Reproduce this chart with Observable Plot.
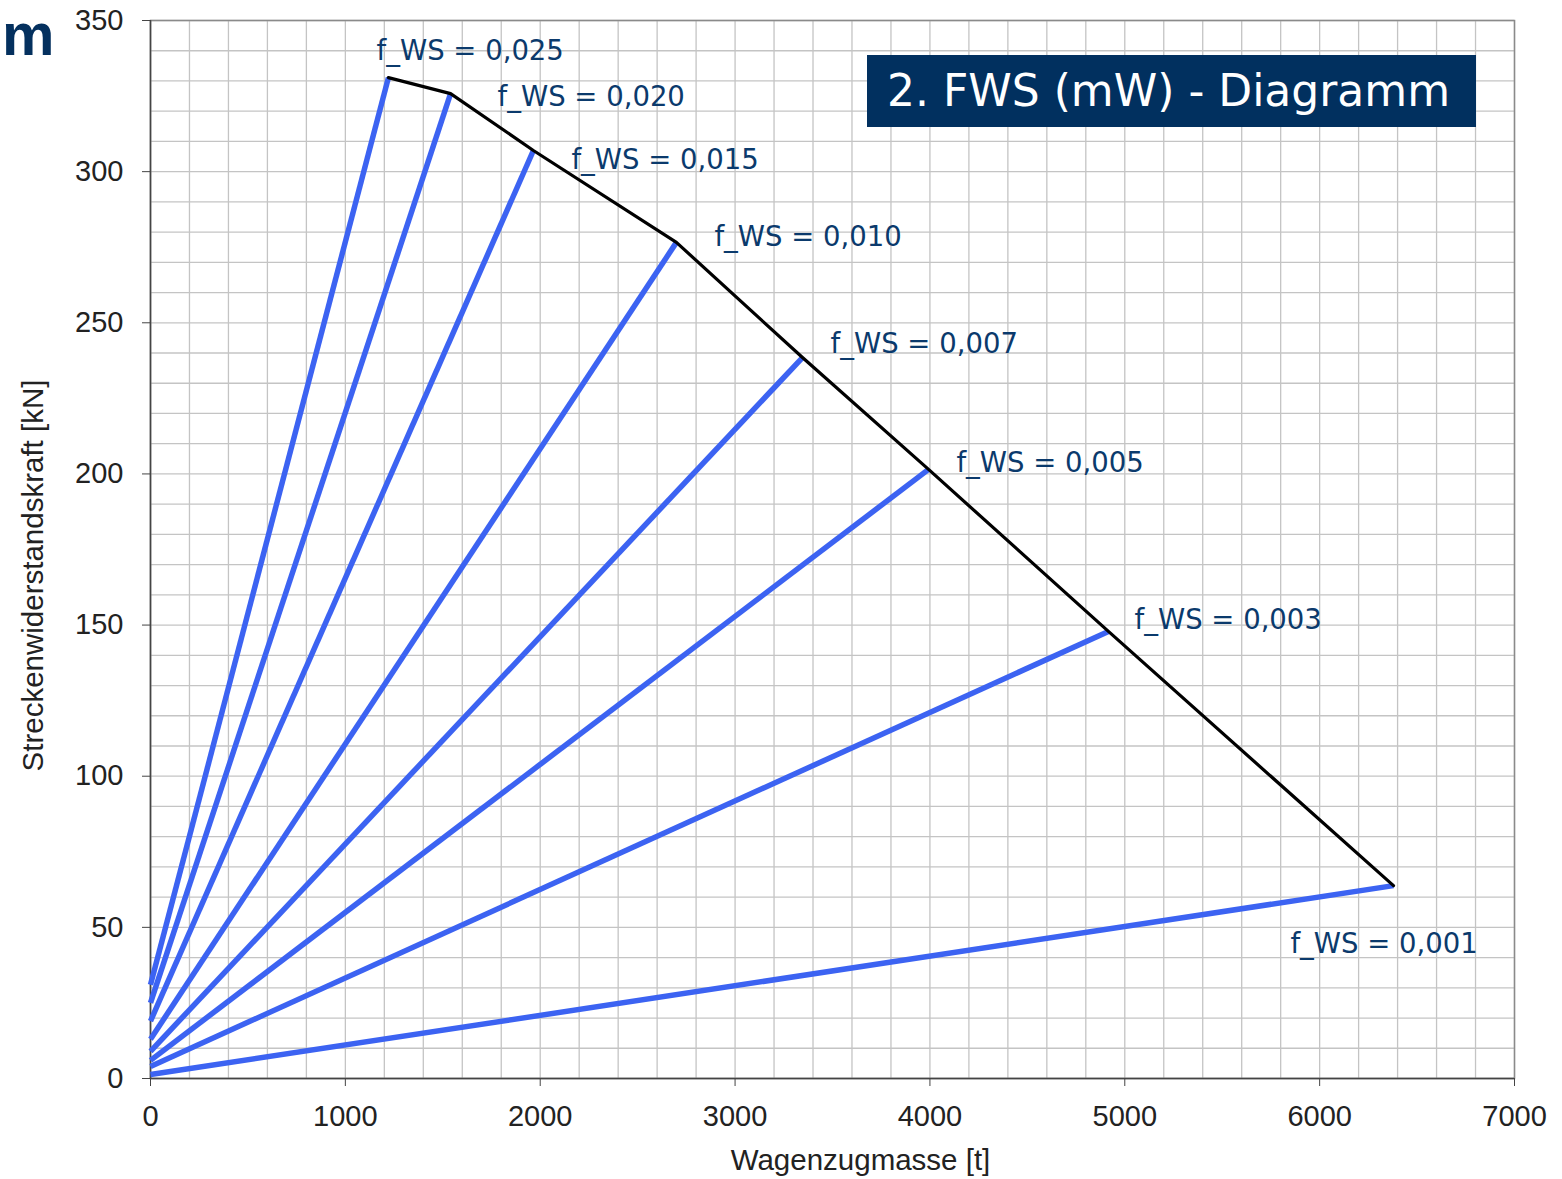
<!DOCTYPE html>
<html>
<head>
<meta charset="utf-8">
<script src="https://cdn.jsdelivr.net/npm/d3@7"></script>
<script src="https://cdn.jsdelivr.net/npm/@observablehq/plot@0.6"></script>
<style>
  body { margin: 0; background: #fff; }
  #wrap { position: relative; width: 1562px; height: 1179px; overflow: hidden; }
  #logo { position: absolute; left: 2px; top: 1px; font: bold 59px "Liberation Sans", Arial, sans-serif; line-height: normal; color: #04305e; }
  #title { position: absolute; left: 867px; top: 55px; width: 609px; height: 72px; background: #01305f; color: #fff;
           font: 44px "DejaVu Sans", Verdana, sans-serif; line-height: 72px; box-sizing: border-box; padding-left: 20px; white-space: nowrap; }
</style>
</head>
<body>
<div id="wrap">
  <div id="chart"></div>
  <div id="logo">m</div>
  <div id="title">2. FWS (mW) - Diagramm</div>
</div>
<script>
// Data
const fLabels   = ["f_WS = 0,025", "f_WS = 0,020", "f_WS = 0,015", "f_WS = 0,010", "f_WS = 0,007", "f_WS = 0,005", "f_WS = 0,003", "f_WS = 0,001"];
const forceStart = [31, 25, 19, 13, 9, 6, 4, 1.3];          // kN at 0 t
const massEnd    = [1221, 1540, 1965, 2699, 3346, 3993, 4916, 6379]; // t
const forceEnd   = [331.1, 325.8, 307, 276.6, 238.5, 201.5, 147.9, 63.8]; // kN
// annotation anchor points (data coordinates)
const labelX = [1160, 1781, 2160, 2894, 3490, 4136, 5050, 5850];
const labelY = [340, 324.5, 303.7, 278.2, 242.8, 203.4, 151.5, 44.3];
const xTicks = [0, 1000, 2000, 3000, 4000, 5000, 6000, 7000];
const yTicks = [0, 50, 100, 150, 200, 250, 300, 350];

const segs = fLabels.map((l, i) => ({label: l, x1: 0, y1: forceStart[i], x2: massEnd[i], y2: forceEnd[i]}));
const env = massEnd.map((m, i) => ({x: m, y: forceEnd[i]}));
const labs = fLabels.map((l, i) => ({label: l, x: labelX[i], y: labelY[i]}));

const tickFont = "Liberation Sans, Arial, sans-serif";
const annFont = "DejaVu Sans, Verdana, sans-serif";

const chart = Plot.plot({
  width: 1562,
  height: 1179,
  marginLeft: 150,
  marginRight: 48,
  marginTop: 20,
  marginBottom: 101,
  style: {fontFamily: tickFont, fontSize: "29px", color: "#222", background: "#fff"},
  x: {domain: [0, 7000]},
  y: {domain: [0, 350]},
  marks: [
    Plot.gridX({interval: 200, stroke: "#c4c4c4", strokeOpacity: 1, strokeWidth: 1.3}),
    Plot.gridY({interval: 10, stroke: "#c4c4c4", strokeOpacity: 1, strokeWidth: 1.3}),
    Plot.frame({stroke: "#8a8a8a", strokeWidth: 1.5}),
    Plot.ruleX([0], {stroke: "#444", strokeWidth: 1.5}),
    Plot.ruleY([0], {stroke: "#444", strokeWidth: 1.5}),
    Plot.axisX({ticks: xTicks, tickFormat: d3.format("d"), tickSize: 8, tickPadding: 19, label: null, stroke: "#444", fontSize: 29, fill: "#222"}),
    Plot.axisY({ticks: yTicks, tickFormat: d3.format("d"), tickSize: 8, tickPadding: 19, label: null, stroke: "#444", fontSize: 29, fill: "#222"}),
    Plot.link(segs, {x1: "x1", y1: "y1", x2: "x2", y2: "y2", stroke: "#3c63f2", strokeWidth: 5.5, strokeLinecap: "butt"}),
    Plot.line(env, {x: "x", y: "y", stroke: "#000", strokeWidth: 3.2}),
    Plot.text(labs, {x: "x", y: "y", text: "label", textAnchor: "start", lineAnchor: "middle", fontSize: 27.5, fontFamily: annFont, fill: "#0b3a6c"}),
    Plot.text(["Wagenzugmasse [t]"], {frameAnchor: "bottom", textAnchor: "middle", dx: 28, dy: 82, lineAnchor: "middle", fontSize: 29.5, fill: "#222"}),
    Plot.text(["Streckenwiderstandskraft [kN]"], {frameAnchor: "left", textAnchor: "middle", rotate: -90, dx: -117, dy: 26, lineAnchor: "middle", fontSize: 29.5, fill: "#222"})
  ]
});
document.getElementById("chart").appendChild(chart);
</script>
</body>
</html>
